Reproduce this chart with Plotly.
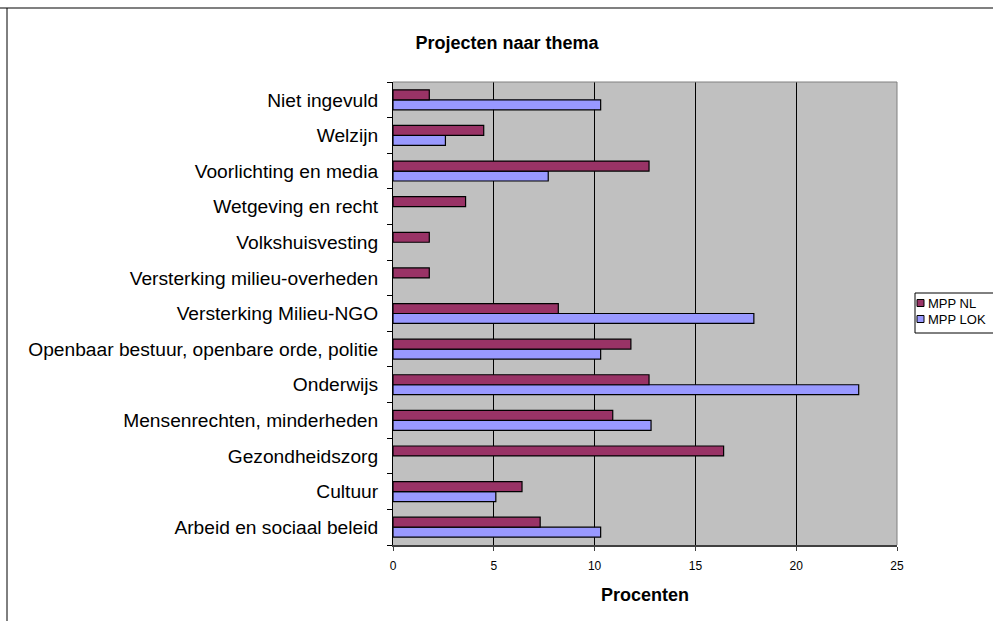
import plotly.graph_objects as go

# Themes, listed bottom to top as they appear on the category axis
categories = [
    "Arbeid en sociaal beleid",
    "Cultuur",
    "Gezondheidszorg",
    "Mensenrechten, minderheden",
    "Onderwijs",
    "Openbaar bestuur, openbare orde, politie",
    "Versterking Milieu-NGO",
    "Versterking milieu-overheden",
    "Volkshuisvesting",
    "Wetgeving en recht",
    "Voorlichting en media",
    "Welzijn",
    "Niet ingevuld",
]

# Share of projects per theme (percent)
mpp_nl = [7.3, 6.4, 16.4, 10.9, 12.7, 11.8, 8.2, 1.8, 1.8, 3.6, 12.7, 4.5, 1.8]
mpp_lok = [10.3, 5.1, 0, 12.8, 23.1, 10.3, 17.9, 0, 0, 0, 7.7, 2.6, 10.3]

series_names = ["MPP NL", "MPP LOK"]
series_colors = ["#993366", "#9999FF"]

x_ticks = [0, 5, 10, 15, 20, 25]

FONT = "Arial, Liberation Sans, sans-serif"
W, H = 993, 621
L, R, T, B = 393, 96, 82, 76
pw, ph = W - L - R, H - T - B


def px_x(x):
    return (x - L) / pw


def px_y(y):
    return (H - B - y) / ph


def outline(values):
    # no outline on empty bars, so nothing is drawn at zero
    return [0 if v == 0 else 1.2 for v in values]


fig = go.Figure()
# LOK first so that NL sits on top within each group
fig.add_trace(go.Bar(
    y=categories, x=mpp_lok, orientation="h", name=series_names[1],
    marker=dict(color=series_colors[1],
                line=dict(color="#000000", width=outline(mpp_lok))),
    showlegend=False,
))
fig.add_trace(go.Bar(
    y=categories, x=mpp_nl, orientation="h", name=series_names[0],
    marker=dict(color=series_colors[0],
                line=dict(color="#000000", width=outline(mpp_nl))),
    showlegend=False,
))

shapes = [
    # plot area frame (top and right edges)
    dict(type="line", xref="paper", yref="paper", x0=0, x1=1, y0=1, y1=1,
         line=dict(color="#808080", width=1)),
    dict(type="line", xref="paper", yref="paper", x0=1, x1=1, y0=0, y1=1,
         line=dict(color="#808080", width=1)),
    # chart area border
    dict(type="line", xref="paper", yref="paper",
         x0=px_x(0), x1=px_x(993), y0=px_y(8), y1=px_y(8),
         line=dict(color="#808080", width=2)),
    dict(type="line", xref="paper", yref="paper",
         x0=px_x(7), x1=px_x(7), y0=px_y(8), y1=px_y(625),
         line=dict(color="#000000", width=1)),
    # legend box
    dict(type="rect", xref="paper", yref="paper",
         x0=px_x(915), x1=px_x(1005), y0=px_y(333), y1=px_y(293),
         line=dict(color="#000000", width=1), fillcolor="#FFFFFF", layer="above"),
]
annotations = []
for i, (name, col) in enumerate(zip(series_names, series_colors)):
    cy = 303 + 16 * i
    shapes.append(dict(
        type="rect", xref="paper", yref="paper",
        x0=px_x(917), x1=px_x(924), y0=px_y(cy + 3.5), y1=px_y(cy - 3.5),
        line=dict(color="#000000", width=1), fillcolor=col, layer="above",
    ))
    annotations.append(dict(
        text=name, xref="paper", yref="paper",
        x=px_x(926), y=px_y(cy), xanchor="left", yanchor="middle",
        showarrow=False, font=dict(size=13, family=FONT, color="#000000"),
    ))

fig.update_layout(
    width=W, height=H,
    margin=dict(l=L, r=R, t=T, b=B, pad=0),
    paper_bgcolor="#FFFFFF",
    plot_bgcolor="#C0C0C0",
    barmode="group",
    bargap=0.44,
    bargroupgap=0,
    showlegend=False,
    font=dict(family=FONT, color="#000000"),
    title=dict(
        text="<b>Projecten naar thema</b>",
        x=507 / W, xref="container", xanchor="center",
        y=1 - 43 / H, yref="container", yanchor="middle",
        font=dict(size=18, family=FONT, color="#000000"),
    ),
    xaxis=dict(
        range=[0, 25], tickvals=x_ticks, ticktext=[str(v) for v in x_ticks],
        showgrid=True, gridcolor="#000000", gridwidth=1,
        showline=True, linecolor="#404040", linewidth=2,
        ticks="outside", ticklen=4, tickcolor="#404040",
        tickfont=dict(size=12, family=FONT),
        ticklabelstandoff=5,
        title=dict(text="<b>Procenten</b>", font=dict(size=18, family=FONT), standoff=16),
        zeroline=False, mirror=False,
    ),
    yaxis=dict(
        type="category", categoryorder="array", categoryarray=categories,
        showgrid=False, showline=True, linecolor="#000000", linewidth=1,
        ticks="outside", ticklen=5, tickcolor="#000000",
        tickson="boundaries",
        tickfont=dict(size=19.2, family=FONT),
        ticklabelstandoff=10,
    ),
    shapes=shapes,
    annotations=annotations,
)

fig.write_html("out.html")
